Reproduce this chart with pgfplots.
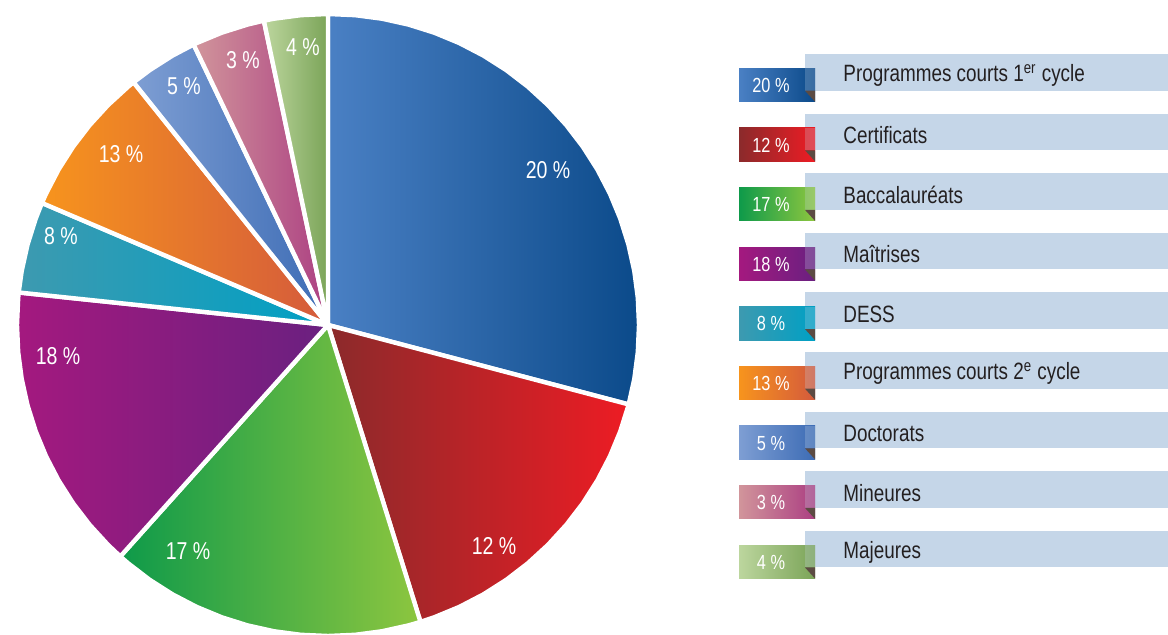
\documentclass[border=0pt]{standalone}
\usepackage{fontspec}
\setmainfont{Liberation Sans}[FakeStretch=0.80]
\usepackage{pgfplots}
\pgfplotsset{compat=1.18}
\definecolor{bL}{HTML}{4A80C4}\definecolor{bR}{HTML}{0B4A8A}
\definecolor{rL}{HTML}{8B2A2B}\definecolor{rR}{HTML}{ED1C24}
\definecolor{gL}{HTML}{0E9A4A}\definecolor{gR}{HTML}{8DC63F}
\definecolor{pL}{HTML}{A4197F}\definecolor{pR}{HTML}{6A2080}
\definecolor{tL}{HTML}{3D9AB0}\definecolor{tR}{HTML}{00A0C4}
\definecolor{oL}{HTML}{F7941D}\definecolor{oR}{HTML}{D45A3C}
\definecolor{sbL}{HTML}{7E9ED3}\definecolor{sbR}{HTML}{3D6CB5}
\definecolor{kL}{HTML}{D1959B}\definecolor{kR}{HTML}{AC3F82}
\definecolor{sgL}{HTML}{BCD69E}\definecolor{sgR}{HTML}{7BA458}
\definecolor{barc}{HTML}{C5D6E8}
\definecolor{fold}{HTML}{5C4B43}
\definecolor{txt}{HTML}{231F20}
\begin{document}
\begin{tikzpicture}
\begin{axis}[name=ax, hide axis, scale only axis, width=584pt, height=317.5pt,
  xmin=-328, xmax=840, ymin=-310, ymax=325, clip=false]
\pgfplotsset{every axis plot/.append style={data cs=polar, draw=white, line width=2.2pt, line join=round}}
% Programmes courts 1er cycle (20 %)
\addplot[left color=bL, right color=bR] coordinates {(0,0) (-14.8,311) (-10,311) (-5,311) (0,311) (5,311) (10,311) (15,311) (20,311) (25,311) (30,311) (35,311) (40,311) (45,311) (50,311) (55,311) (60,311) (65,311) (70,311) (75,311) (80,311) (85,311) (90,311) (0,0)};
% Certificats (12 %)
\addplot[left color=rL, right color=rR] coordinates {(0,0) (287.3,311) (290,311) (295,311) (300,311) (305,311) (310,311) (315,311) (320,311) (325,311) (330,311) (335,311) (340,311) (345,311) (345.2,311) (0,0)};
% Baccalaureats (17 %)
\addplot[left color=gL, middle color=gR, right color=gR] coordinates {(0,0) (228.1,311) (230,311) (235,311) (240,311) (245,311) (250,311) (255,311) (260,311) (265,311) (270,311) (275,311) (280,311) (285,311) (287.3,311) (0,0)};
% Maitrises (18 %)
\addplot[left color=pL, right color=pR] coordinates {(0,0) (174,311) (175,311) (180,311) (185,311) (190,311) (195,311) (200,311) (205,311) (210,311) (215,311) (220,311) (225,311) (228.1,311) (0,0)};
% DESS (8 %)
\addplot[left color=tL, middle color=tR, right color=tR] coordinates {(0,0) (156.9,311) (160,311) (165,311) (170,311) (174,311) (0,0)};
% Programmes courts 2e cycle (13 %)
\addplot[left color=oL, right color=oR] coordinates {(0,0) (128.7,311) (130,311) (135,311) (140,311) (145,311) (150,311) (155,311) (156.9,311) (0,0)};
% Doctorats (5 %)
\addplot[left color=sbL, right color=sbR] coordinates {(0,0) (115.6,311) (120,311) (125,311) (128.7,311) (0,0)};
% Mineures (3 %)
\addplot[left color=kL, right color=kR] coordinates {(0,0) (101.9,311) (105,311) (110,311) (115,311) (115.6,311) (0,0)};
% Majeures (4 %)
\addplot[left color=sgL, right color=sgR] coordinates {(0,0) (90,311) (95,311) (100,311) (101.9,311) (0,0)};
\end{axis}
\begin{scope}[shift={(ax.north west)}, x=0.5pt, y=-0.5pt]
  \tikzset{pl/.style={text=white, font=\fontsize{12.2}{14}\selectfont, inner sep=0pt}}
  \node[pl] at (548,170) {20 \%};
  \node[pl] at (494,546) {12 \%};
  \node[pl] at (188,551) {17 \%};
  \node[pl] at (58,356) {18 \%};
  \node[pl] at (61,236) {8 \%};
  \node[pl] at (121,154) {13 \%};
  \node[pl] at (184,86) {5 \%};
  \node[pl] at (243,60) {3 \%};
  \node[pl] at (303,47) {4 \%};
  \foreach \i/\cl/\cr/\p/\t in {0/bL/bR/20/{Programmes courts 1\textsuperscript{er} cycle},
      1/rL/rR/12/{Certificats}, 2/gL/gR/17/{Baccalauréats}, 3/pL/pR/18/{Maîtrises},
      4/tL/tR/8/{DESS}, 5/oL/oR/13/{Programmes courts 2\textsuperscript{e} cycle},
      6/sbL/sbR/5/{Doctorats}, 7/kL/kR/3/{Mineures}, 8/sgL/sgR/4/{Majeures}} {
    \pgfmathsetmacro{\dy}{59.6*\i}
    \fill[barc] (805,54+\dy) rectangle (1168,90.7+\dy);
    \fill[left color=\cl, right color=\cr] (739,68.3+\dy) rectangle (815,101.7+\dy);
    \fill[barc, opacity=0.25] (805,68.3+\dy) rectangle (815,90.7+\dy);
    \fill[fold] (805,90.7+\dy) -- (815,90.7+\dy) -- (815,101.7+\dy) -- cycle;
    \node[text=white, font=\fontsize{10.2}{12}\selectfont, inner sep=0pt] at (771,85.5+\dy) {\p{} \%};
    \node[text=txt, font=\fontsize{11.8}{14}\selectfont, anchor=west, inner sep=0pt] at (843,75.5+\dy) {\t};
  }
\end{scope}
\pgfresetboundingbox
\path (ax.south west) rectangle (ax.north east);
\end{tikzpicture}
\end{document}
